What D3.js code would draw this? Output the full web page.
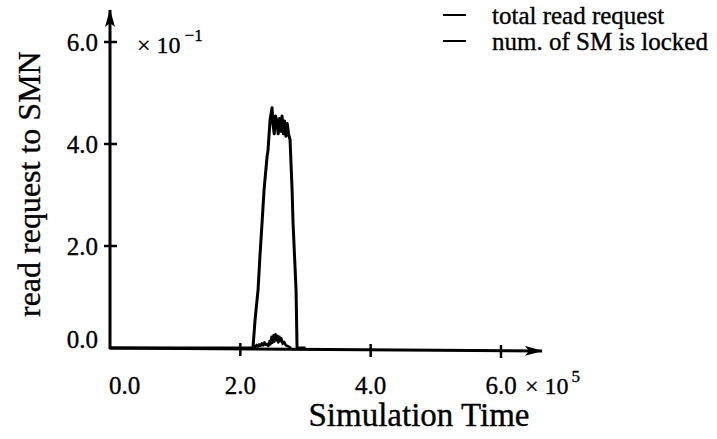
<!DOCTYPE html>
<html>
<head>
<meta charset="utf-8">
<script src="https://cdn.jsdelivr.net/npm/d3@7"></script>
<style>
  body { margin: 0; background: #fff; }
  svg { display: block; }
  text { font-family: "Liberation Serif", "Times New Roman", serif; fill: #000; stroke: #000; stroke-width: 0.35px; }
</style>
</head>
<body>
<svg id="chart" width="717" height="439"></svg>
<script>
// simulation time, in units of 10^5
const timeTotal = [0, 1.0, 2.0, 2.17, 2.195, 2.226, 2.272, 2.302, 2.333, 2.364, 2.41, 2.425, 2.456, 2.487,
  2.50, 2.52, 2.54, 2.56, 2.58, 2.60, 2.62, 2.64, 2.66, 2.68, 2.70, 2.72, 2.74, 2.763,
  2.794, 2.809, 2.855, 2.87, 2.88, 3.0];
// total read request, in units of 10^-1
const totalRead = [0, 0, 0, 0, 0.02, 0.55, 1.14, 1.82, 2.45, 3.10, 3.75, 3.88, 4.47, 4.71,
  4.40, 4.20, 4.55, 4.45, 4.20, 4.50, 4.25, 4.55, 4.20, 4.45, 4.15, 4.40, 4.20, 4.08,
  3.10, 2.45, 1.14, 0.02, 0, 0];

const timeLocked = [2.19, 2.21, 2.23, 2.25, 2.27, 2.29, 2.31, 2.33, 2.35, 2.37, 2.39, 2.41, 2.43,
  2.45, 2.46, 2.48, 2.49, 2.51, 2.52, 2.54, 2.55, 2.57, 2.58, 2.60, 2.61, 2.63, 2.65, 2.67,
  2.70, 2.74, 2.78];
const lockedCount = [0, 0.04, 0.02, 0.06, 0.03, 0.07, 0.04, 0.09, 0.05, 0.11, 0.06, 0.08, 0.04,
  0.14, 0.07, 0.22, 0.10, 0.25, 0.12, 0.27, 0.15, 0.24, 0.11, 0.22, 0.13, 0.19, 0.08, 0.12,
  0.05, 0.03, 0];

const xTicks = [0, 2, 4, 6];
const yTicks = [0, 2, 4, 6];
const tickLabels = ["0.0", "2.0", "4.0", "6.0"];
const seriesNames = ["total read request", "num. of SM is locked"];

const svg = d3.select("#chart");

const x = d3.scaleLinear().domain([0, 6]).range([110, 501]);
const y = d3.scaleLinear().domain([0, 6]).range([348, 42]);

// axes with arrows
svg.append("defs").append("marker")
    .attr("id", "arrow")
    .attr("viewBox", "0 0 18 10")
    .attr("refX", 17).attr("refY", 5)
    .attr("markerWidth", 18).attr("markerHeight", 10)
    .attr("markerUnits", "userSpaceOnUse")
    .attr("orient", "auto")
  .append("path")
    .attr("d", "M0,0 L18,5 L0,10 L4,5 Z")
    .attr("fill", "#000");

svg.append("line")
    .attr("x1", x(0) - 1).attr("y1", y(0))
    .attr("x2", x(6) + 41).attr("y2", y(0) + 3)
    .attr("stroke", "#000").attr("stroke-width", 3)
    .attr("marker-end", "url(#arrow)");

svg.append("line")
    .attr("x1", x(0)).attr("y1", y(0) + 1)
    .attr("x2", x(0)).attr("y2", y(6) - 32)
    .attr("stroke", "#000").attr("stroke-width", 3)
    .attr("marker-end", "url(#arrow)");

// ticks
svg.selectAll("line.xtick").data(xTicks.slice(1)).enter().append("line")
    .attr("class", "xtick")
    .attr("x1", d => x(d)).attr("x2", d => x(d))
    .attr("y1", d => y(0) - 6 + d * 0.5).attr("y2", d => y(0) + 7 + d * 0.5)
    .attr("stroke", "#000").attr("stroke-width", 2.5);

svg.selectAll("line.ytick").data(yTicks.slice(1)).enter().append("line")
    .attr("class", "ytick")
    .attr("x1", x(0) - 6).attr("x2", x(0) + 7)
    .attr("y1", d => y(d)).attr("y2", d => y(d))
    .attr("stroke", "#000").attr("stroke-width", 2.5);

// tick labels
svg.selectAll("text.xlab").data(xTicks).enter().append("text")
    .attr("class", "xlab")
    .attr("x", d => d === 0 ? x(d) - 1 : x(d))
    .attr("y", 394)
    .attr("text-anchor", d => d === 0 ? "start" : "middle")
    .attr("font-size", 25)
    .text((d, i) => tickLabels[i]);

svg.selectAll("text.ylab").data(yTicks).enter().append("text")
    .attr("class", "ylab")
    .attr("x", 98)
    .attr("y", d => d === 0 ? y(d) : y(d) + 9)
    .attr("text-anchor", "end")
    .attr("font-size", 25)
    .text((d, i) => tickLabels[i]);

// exponents
const yExp = svg.append("text").attr("x", 137).attr("y", 53).attr("font-size", 24);
yExp.append("tspan").text("\u00d7 10");
yExp.append("tspan").attr("dx", 4).attr("dy", -12).attr("font-size", 17).text("\u22121");

const xExp = svg.append("text").attr("x", 525).attr("y", 394).attr("font-size", 24);
xExp.append("tspan").text("\u00d7 10");
xExp.append("tspan").attr("dx", 3).attr("dy", -12).attr("font-size", 17).text("5");

// axis titles
svg.append("text")
    .attr("x", 419).attr("y", 426)
    .attr("text-anchor", "middle")
    .attr("font-size", 33)
    .text("Simulation Time");

svg.append("text")
    .attr("transform", "translate(40,317) rotate(-90)")
    .attr("text-anchor", "start")
    .attr("font-size", 32)
    .text("read request to SMN");

// series
const lineTotal = d3.line()
    .x((d, i) => x(timeTotal[i]))
    .y(d => y(d));

const lineLocked = d3.line()
    .x((d, i) => x(timeLocked[i]))
    .y(d => y(d));

svg.append("path")
    .datum(totalRead)
    .attr("d", lineTotal)
    .attr("fill", "none")
    .attr("stroke", "#000")
    .attr("stroke-width", 3)
    .attr("stroke-linejoin", "round");

svg.append("path")
    .datum(lockedCount)
    .attr("d", lineLocked)
    .attr("fill", "none")
    .attr("stroke", "#000")
    .attr("stroke-width", 2.5)
    .attr("stroke-linejoin", "round");

// legend
const legend = svg.selectAll("g.legend").data(seriesNames).enter().append("g")
    .attr("class", "legend")
    .attr("transform", (d, i) => `translate(0, ${i * 26})`);

legend.append("line")
    .attr("x1", 443).attr("x2", 466)
    .attr("y1", 15).attr("y2", 15)
    .attr("stroke", "#000").attr("stroke-width", 2);

legend.append("text")
    .attr("x", 492).attr("y", 24)
    .attr("font-size", 25)
    .text(d => d);
</script>
</body>
</html>
